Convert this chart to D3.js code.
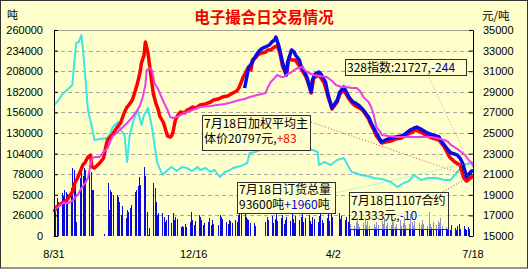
<!DOCTYPE html>
<html>
<head>
<meta charset="utf-8">
<script src="https://cdn.jsdelivr.net/npm/d3@7"></script>
<style>
  body { margin: 0; background: #fff; }
  text { font-family: "Liberation Sans", Arial, sans-serif; }
  .cjk { font-family: "Noto Sans CJK SC", sans-serif; }
</style>
</head>
<body>
<svg id="chart" width="529" height="272"></svg>
<script>
// day numbers count from 2010-08-31
var startDate = new Date(2010, 7, 31);
var endDate = new Date(2011, 6, 18);
var xTickDays = [0, 107, 214, 321];
var tonTicks = [0, 26000, 52000, 78000, 104000, 130000, 156000, 182000, 208000, 234000, 260000];
var priceTicks = [15000, 17000, 19000, 21000, 23000, 25000, 27000, 29000, 31000, 33000, 35000];

var holidays = ["2010-10-01", "2010-10-04", "2010-10-05", "2010-10-06", "2010-10-07",
  "2011-01-03", "2011-02-02", "2011-02-03", "2011-02-04", "2011-02-07", "2011-02-08",
  "2011-04-04", "2011-04-05", "2011-05-02", "2011-06-06"];

// 订货总量 (tons) [day, value]
var orderTotal = [[0,165300],[3,170400],[6,178000],[10,184300],[14,190600],[15,209500],[17,243600],[19,244800],[21,253700],[22,238500],[24,200700],[26,159000],[29,137600],[31,121200],[35,122400],[41,123700],[43,130000],[45,137600],[49,143900],[51,133800],[54,127500],[56,93400],[58,127500],[61,146400],[64,159000],[67,140100],[69,152700],[72,161500],[75,137600],[77,114900],[79,93400],[83,77000],[87,83300],[90,87100],[94,82000],[98,87100],[102,85800],[106,82000],[110,87100],[112,83300],[116,85800],[120,80800],[123,83300],[127,74500],[131,80800],[135,83300],[137,85800],[143,88300],[148,92100],[150,104800],[154,106000],[158,108500],[162,114900],[166,118600],[170,117400],[176,118600],[182,114900],[189,112300],[194,111100],[198,108500],[202,106000],[203,89600],[207,93400],[212,89600],[217,95900],[222,98400],[228,80800],[231,79500],[235,77000],[240,75700],[245,73200],[251,71900],[258,68200],[263,61800],[268,66900],[272,69400],[276,77000],[281,70700],[287,73200],[293,73200],[299,70700],[304,70700],[309,80800],[314,89600],[320,92100],[321,93600]];

// 加权平均价 (yuan/ton)
var avgPrice = [[0,17330],[2,17820],[6,18200],[10,18500],[12,18880],[14,19270],[16,20150],[18,20630],[20,21210],[22,21890],[24,22180],[26,22670],[28,22860],[29,21700],[31,21600],[35,22090],[38,22570],[40,23840],[41,24320],[45,24900],[48,25490],[51,25970],[54,27040],[56,27520],[58,27820],[60,28200],[62,28980],[64,29850],[66,30920],[67,31800],[69,32570],[70,33840],[72,32770],[74,30830],[76,28880],[78,27910],[80,27230],[81,26650],[84,25970],[86,25100],[87,24710],[89,24610],[90,24710],[91,25000],[93,26260],[95,26750],[97,27040],[100,26940],[102,27230],[104,27330],[106,27520],[109,27430],[112,27720],[116,27820],[120,28010],[122,28200],[126,28300],[129,28500],[133,28590],[137,28880],[140,29080],[142,29470],[145,30440],[147,30920],[149,31410],[151,31120],[152,32090],[155,32380],[156,32570],[159,32770],[162,32860],[164,33060],[166,33060],[169,33350],[171,33450],[173,32770],[175,31510],[178,30630],[180,32280],[182,32090],[185,32090],[189,31310],[193,30440],[195,29760],[197,28880],[199,30340],[203,30630],[207,29850],[210,28500],[213,27330],[217,28010],[219,28790],[222,29180],[226,28300],[229,27820],[231,27620],[234,27430],[237,27140],[241,26360],[243,25780],[245,25290],[247,24710],[251,24030],[254,24130],[258,24220],[262,24420],[266,24510],[270,24810],[273,25000],[277,25290],[281,25100],[286,24710],[290,24510],[295,24320],[299,23640],[303,22670],[307,22180],[311,21890],[314,20630],[316,20340],[319,20630],[321,20797]];

// 1107合约
var contract1107 = [[146,29370],[148,30630],[149,31310],[152,31890],[154,32380],[156,32770],[158,33060],[160,33250],[162,33350],[165,33540],[167,33840],[169,34030],[170,34320],[172,33540],[173,33060],[175,31890],[178,30630],[179,31890],[182,33060],[184,32860],[185,32570],[188,32090],[189,31600],[192,30920],[194,30340],[195,29850],[197,28980],[198,30150],[200,30730],[203,30920],[205,30630],[208,29950],[210,28690],[213,27430],[215,27820],[217,28200],[219,28980],[222,29470],[224,28980],[226,28500],[229,28010],[231,27910],[234,27620],[237,27230],[241,26550],[243,25970],[245,25490],[247,25000],[250,24320],[251,24130],[254,24320],[258,24510],[262,24610],[266,24710],[268,24810],[271,25100],[273,25290],[276,25490],[278,25580],[281,25390],[286,25000],[290,24810],[295,24610],[297,24130],[299,23840],[302,23350],[304,23060],[307,22960],[309,22860],[311,22570],[313,22090],[315,21210],[316,20730],[318,21020],[320,21310],[321,21333]];

// 328指数
var index328 = [[0,17520],[3,17820],[7,18200],[11,18200],[14,18400],[16,18690],[19,19170],[21,19660],[24,20150],[26,20630],[28,21890],[29,22570],[32,22670],[35,22670],[38,23160],[41,23540],[43,24130],[45,24710],[48,25000],[52,25490],[56,25970],[60,26550],[64,27230],[66,27720],[68,28500],[70,29660],[71,31120],[73,31310],[75,31120],[77,29850],[80,29180],[81,28880],[84,28010],[87,27230],[89,26550],[91,26460],[94,26550],[97,26750],[100,26940],[104,27140],[108,27330],[112,27520],[120,27620],[125,27720],[131,27820],[137,28010],[142,28200],[146,28300],[150,28500],[156,28690],[162,28880],[164,29470],[166,29950],[169,30340],[171,30630],[174,30440],[176,30440],[179,30730],[182,30920],[184,31120],[187,31310],[190,31410],[192,31120],[194,30920],[197,30730],[199,30630],[204,30530],[209,30440],[213,30050],[216,29660],[220,29470],[224,29470],[228,29370],[232,29370],[235,28980],[237,28500],[241,28010],[243,27520],[245,26750],[247,25580],[250,25100],[251,24810],[256,24710],[263,24610],[269,24610],[276,24610],[283,24610],[289,24610],[293,24510],[299,24320],[302,24130],[304,23840],[308,23540],[312,23160],[315,22860],[317,22480],[320,22100],[321,21727]];

// daily volume (tons), one per trading day
var dailyVolume = [
  26500, 35300, 48000, 42900,            // 8/31-9/3
  54300, 50500, 58100, 55500, 53000,
  60600, 85800, 83300, 69400, 17700,
  73200, 80800, 75700, 85800, 83300,
  89600, 80800, 58100, 58100,            // 9/27-9/30
  2500,                                  // 10/8
  66900, 32800, 58100, 55500, 51700,
  51700, 49200, 42900, 26500, 37900,
  22700, 32800, 30300, 35300, 39100,
  55500, 58100, 63100, 74500, 64400,     // 11/1
  87100, 75700, 30300, 1300, 10100,
  66900, 60600, 42900, 26500, 29000,
  29000, 24000, 17700, 20200, 26500,
  16400, 29000, 20200, 24000, 21500,     // 11/29
  11400, 12600, 11400, 15100, 11400,
  17700, 30300, 20200, 13900, 18900,
  26500, 24000, 20200, 13900, 16400,
  17700, 22700, 13900, 20200, 15100,
  13900, 26500, 24000, 21500,            // 1/4
  17700, 15100, 20200, 18900, 16400,
  20200, 17700, 26500, 30300, 39100,
  30300, 24000, 21500, 20200, 16400,
  16400, 12600,                          // 1/31-2/1
  17700, 24000, 20200,                   // 2/9
  25200, 16400, 21500, 27800, 18900,
  22700, 26500, 15100, 20200, 24000,
  18900, 27800, 21500, 16400, 25200,     // 2/28
  20200, 24000, 29000, 17700, 22700,
  26500, 18900, 15100, 24000, 21500,
  17700, 25200, 30300, 20200, 16400,
  22700, 27800, 18900, 32800, 24000,     // 3/28
  29000, 21500, 25200,                   // 4/6
  20200, 24000, 17700, 26500, 15100,
  12600, 17700, 22700, 15100, 11400,
  16400, 20200, 13900, 18900, 12600,
  15100, 11400, 17700, 13900,            // 5/3
  18900, 15100, 22700, 12600, 16400,
  13900, 21500, 17700, 11400, 15100,
  20200, 12600, 16400, 24000, 13900,
  15100, 27800, 17700, 12600, 18900,     // 5/30
  16400, 13900, 20200, 15100,            // 6/7
  12600, 30300, 15100, 11400, 17700,
  13900, 18900, 16400, 22700, 12600,
  11400, 8800, 12600, 7600, 13900,       // 6/27
  10100, 7600, 12600, 15100, 8800,
  12600, 8800, 7600, 11400, 8800,
  10100                                  // 7/18
];

var svg = d3.select("#chart");
var W = 529, H = 272;
var plot = {left: 54, right: 473, top: 30, bottom: 236};

var dayToDate = function(d) { return d3.timeDay.offset(startDate, d); };
var fmtKey = d3.timeFormat("%Y-%m-%d");
var holidaySet = new Set(holidays);
var tradeDays = d3.timeDay.range(startDate, d3.timeDay.offset(endDate, 1))
  .filter(function(d) { return d.getDay() !== 0 && d.getDay() !== 6 && !holidaySet.has(fmtKey(d)); });

var x = d3.scaleTime().domain([startDate, endDate]).range([plot.left, plot.right]);
var yTon = d3.scaleLinear().domain([0, 260000]).range([plot.bottom, plot.top]);
var yPrice = d3.scaleLinear().domain([15000, 35000]).range([plot.bottom, plot.top]);

// background + frame
svg.append("rect").attr("width", W).attr("height", H).attr("fill", "#fff");
svg.append("rect")
  .attr("x", 0.5).attr("y", 0.5).attr("width", 527).attr("height", 267.5)
  .attr("fill", "#FFFFCC").attr("stroke", "#333");

// grid
svg.append("g").selectAll("line")
  .data(tonTicks.slice(1, -1))
  .enter().append("line")
  .attr("x1", plot.left).attr("x2", plot.right)
  .attr("y1", function(d) { return Math.round(yTon(d)) + 0.5; })
  .attr("y2", function(d) { return Math.round(yTon(d)) + 0.5; })
  .attr("stroke", "#A8A8A0").attr("stroke-dasharray", "4,3");

svg.append("line")
  .attr("x1", plot.left).attr("x2", plot.right)
  .attr("y1", plot.top + 0.5).attr("y2", plot.top + 0.5)
  .attr("stroke", "#A0A090");

// bars
var bars = tradeDays.slice(0, dailyVolume.length).map(function(d, i) { return {date: d, v: dailyVolume[i]}; });
svg.append("g").attr("shape-rendering", "crispEdges").selectAll("rect")
  .data(bars)
  .enter().append("rect")
  .attr("x", function(d) { return Math.round(x(d.date)); })
  .attr("width", 1.4)
  .attr("y", function(d) { return Math.round(yTon(d.v)); })
  .attr("height", function(d) { return plot.bottom - Math.round(yTon(d.v)); })
  .attr("fill", "#0A0AD8");

// lines
var lineTon = d3.line().x(function(d) { return x(dayToDate(d[0])); }).y(function(d) { return yTon(d[1]); });
var linePrice = d3.line().x(function(d) { return x(dayToDate(d[0])); }).y(function(d) { return yPrice(d[1]); });

svg.append("path").datum(orderTotal).attr("d", lineTon)
  .attr("fill", "none").attr("stroke", "#3EE4E8").attr("stroke-width", 2).attr("stroke-linejoin", "round");
svg.append("path").datum(avgPrice).attr("d", linePrice)
  .attr("fill", "none").attr("stroke", "#FF0000").attr("stroke-width", 3.5).attr("stroke-linejoin", "round");
svg.append("path").datum(contract1107).attr("d", linePrice)
  .attr("fill", "none").attr("stroke", "#0A0AE6").attr("stroke-width", 3.5).attr("stroke-linejoin", "round");
svg.append("path").datum(index328).attr("d", linePrice)
  .attr("fill", "none").attr("stroke", "#EC3CEC").attr("stroke-width", 2).attr("stroke-linejoin", "round");

// axes
var axL = svg.append("g").attr("transform", "translate(" + plot.left + ",0)")
  .call(d3.axisLeft(yTon).tickValues(tonTicks).tickSize(-4).tickSizeOuter(0).tickPadding(11).tickFormat(d3.format("d")));
var axR = svg.append("g").attr("transform", "translate(" + plot.right + ",0)")
  .call(d3.axisRight(yPrice).tickValues(priceTicks).tickSize(-4).tickSizeOuter(0).tickPadding(10).tickFormat(d3.format("d")));
[axL, axR].forEach(function(ax) {
  ax.select(".domain").attr("stroke", "#000");
  ax.selectAll(".tick line").attr("stroke", "#000");
  ax.selectAll("text").attr("font-size", 11).attr("fill", "#000")
    .style("font-family", "'Liberation Sans', Arial, sans-serif");
});

svg.append("g").selectAll("text")
  .data(xTickDays)
  .enter().append("text")
  .attr("x", function(d) { return x(dayToDate(d)); })
  .attr("y", 258)
  .attr("text-anchor", "middle")
  .attr("font-size", 11)
  .text(function(d) { return d3.timeFormat("%-m/%-d")(dayToDate(d)); });

// titles
svg.append("text").attr("class", "cjk")
  .attr("x", 264).attr("y", 23).attr("text-anchor", "middle")
  .attr("font-size", 15.5).attr("font-weight", "bold").attr("fill", "#F00000")
  .text("电子撮合日交易情况");
svg.append("text").attr("class", "cjk").attr("x", 7).attr("y", 19).attr("font-size", 11).text("吨");
svg.append("text").attr("class", "cjk").attr("x", 482).attr("y", 20).attr("font-size", 11.5).text("元/吨");

// leader lines to last values
var lastDay = endDate;
var leaders = [
  {x1: 311, y1: 122, y2: yPrice(20797), color: "#E04848"},
  {x1: 428, y1: 75, y2: yPrice(21727) - 4, color: "#F080F0"},
  {x1: 336, y1: 193, y2: yTon(93600) + 1, color: "#40E0E0"},
  {x1: 443, y1: 192, y2: yPrice(21333) + 6, color: "#4848E0"}
];
svg.append("g").selectAll("line")
  .data(leaders)
  .enter().append("line")
  .attr("x1", function(d) { return d.x1; }).attr("y1", function(d) { return d.y1; })
  .attr("x2", x(lastDay) - 4).attr("y2", function(d) { return d.y2; })
  .attr("stroke", function(d) { return d.color; })
  .attr("stroke-dasharray", "1,2");

// callout boxes
var boxes = [
  {x: 202, y: 115, w: 108, h: 35, top: 12.5, gap: 15.5, op: 1, lines: [[["7月18日加权平均主", "#000"]], [["体价20797元,", "#000"], ["+83", "#F00000"]]]},
  {x: 345, y: 59, w: 121, h: 16, top: 12.5, gap: 0, op: 1, lines: [[["328指数:21727,", "#000"], ["-244", "#000090"]]]},
  {x: 237, y: 182, w: 98, h: 31, top: 11.5, gap: 15.6, op: 1, lines: [[["7月18日订货总量", "#000"]], [["93600吨", "#000"], ["+1960", "#0000E0"], ["吨", "#000"]]]},
  {x: 349, y: 192, w: 99, h: 37, top: 12.5, gap: 15.5, op: 0.55, lines: [[["7月18日1107合约", "#000"]], [["21333元,", "#000"], ["-10", "#0000E0"]]]}
];
boxes.forEach(function(b) {
  var g = svg.append("g");
  g.append("rect")
    .attr("x", b.x + 0.5).attr("y", b.y + 0.5).attr("width", b.w).attr("height", b.h)
    .attr("fill", "#FFFFCC").attr("fill-opacity", b.op)
    .attr("stroke", "#303030");
  b.lines.forEach(function(parts, i) {
    var t = g.append("text").attr("class", "cjk")
      .attr("x", b.x + 2).attr("y", b.y + b.top + i * b.gap)
      .attr("font-size", 12);
    parts.forEach(function(p) { t.append("tspan").attr("fill", p[1]).text(p[0]); });
  });
});
</script>
</body>
</html>
